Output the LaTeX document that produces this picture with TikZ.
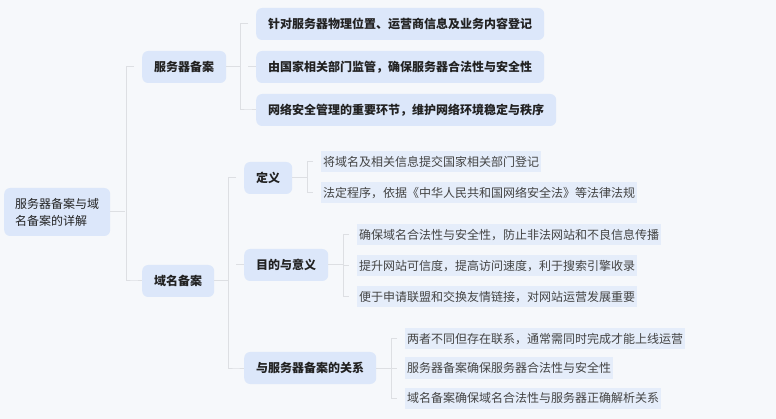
\documentclass[tikz,border=0pt]{standalone}
\usepackage{fontspec}
\setmainfont{Noto Sans CJK SC}
\definecolor{bgcol}{HTML}{F6F8FB}
\definecolor{boxcol}{HTML}{DCE7FA}
\definecolor{leafcol}{HTML}{E5EDFA}
\definecolor{linecol}{HTML}{DDDFE3}
\definecolor{txtcol}{HTML}{222222}
\tikzset{
  topic/.style={fill=boxcol, rounded corners=6pt, text=txtcol, font=\fontsize{12}{16}\selectfont\bfseries,
    anchor=west, minimum height=32pt, inner xsep=12pt},
  leaf/.style={fill=leafcol, text=txtcol!85, font=\fontsize{12}{14}\selectfont,
    anchor=west, minimum height=21pt, inner xsep=2pt},
  link/.style={draw=linecol, line width=1pt}
}
\begin{document}
\begin{tikzpicture}[x=1pt,y=-1pt]

    % Background and picture size
    \fill[bgcol] (0,0) rectangle (776,419);
    \useasboundingbox (0,0) rectangle (776,419);

    % Root
    \node[topic, font=\fontsize{12}{17}\selectfont, align=left, minimum height=48pt, inner xsep=11pt]
      (root) at (4,212) {服务器备案与域\\名备案的详解};

    % First level
    \node[topic] (server) at (142,67) {服务器备案};
    \node[topic] (domain) at (142,281) {域名备案};

    % Server children
    \node[topic] (s1) at (256,24) {针对服务器物理位置、运营商信息及业务内容登记};
    \node[topic] (s2) at (256,67) {由国家相关部门监管，确保服务器合法性与安全性};
    \node[topic] (s3) at (256,110) {网络安全管理的重要环节，维护网络环境稳定与秩序};

    % Domain children
    \node[topic] (def) at (244,178) {定义};
    \node[topic] (aim) at (244,265) {目的与意义};
    \node[topic] (rel) at (244,368) {与服务器备案的关系};

    % Leaves
    \node[leaf] (d1) at (321,162) {将域名及相关信息提交国家相关部门登记};
    \node[leaf] (d2) at (321,193) {法定程序，依据《中华人民共和国网络安全法》等法律法规};
    \node[leaf] (a1) at (357,235) {确保域名合法性与安全性，防止非法网站和不良信息传播};
    \node[leaf] (a2) at (357,266) {提升网站可信度，提高访问速度，利于搜索引擎收录};
    \node[leaf] (a3) at (357,297) {便于申请联盟和交换友情链接，对网站运营发展重要};
    \node[leaf] (r1) at (405,339) {两者不同但存在联系，通常需同时完成才能上线运营};
    \node[leaf] (r2) at (405,368) {服务器备案确保服务器合法性与安全性};
    \node[leaf] (r3) at (405,398) {域名备案确保域名合法性与服务器正确解析关系};

    % Bracket connectors
    \draw[link] (root.east) -- ++(15,0);
    \draw[link] (server.west) ++(-8,0) -- ++(-8,0) |- ([xshift=-8pt]domain.west) -- (domain.west);
    \draw[link] (server.east) -- ++(14,0);
    \draw[link] ([xshift=-8pt]s2.west) -- (s2.west);
    \draw[link] (s1.west) ++(-8,0) -- ++(-8,0) |- ([xshift=-8pt]s3.west) -- (s3.west);
    \draw[link] (domain.east) -- ++(15,0);
    \draw[link] (def.west) ++(-8,0) -- ++(-8,0) |- ([xshift=-8pt]rel.west) -- (rel.west);
    \draw[link] ([xshift=-8pt]aim.west) -- (aim.west);
    \draw[link] (def.east) -- ++(15,0);
    \draw[link] (d1.west) ++(-8,0) -- ++(-6,0) |- ([xshift=-8pt]d2.west);
    \draw[link] (aim.east) -- ++(15,0);
    \draw[link] (a1.west) ++(-8,0) -- ++(-6,0) |- ([xshift=-8pt]a3.west);
    \draw[link] ([xshift=-14pt]a2.west) -- ([xshift=-8pt]a2.west);
    \draw[link] (rel.east) -- ++(15,0);
    \draw[link] (r1.west) ++(-8,0) -- ++(-6,0) |- ([xshift=-8pt]r3.west);
    \draw[link] ([xshift=-14pt]r2.west) -- ([xshift=-8pt]r2.west);

\end{tikzpicture}
\end{document}
